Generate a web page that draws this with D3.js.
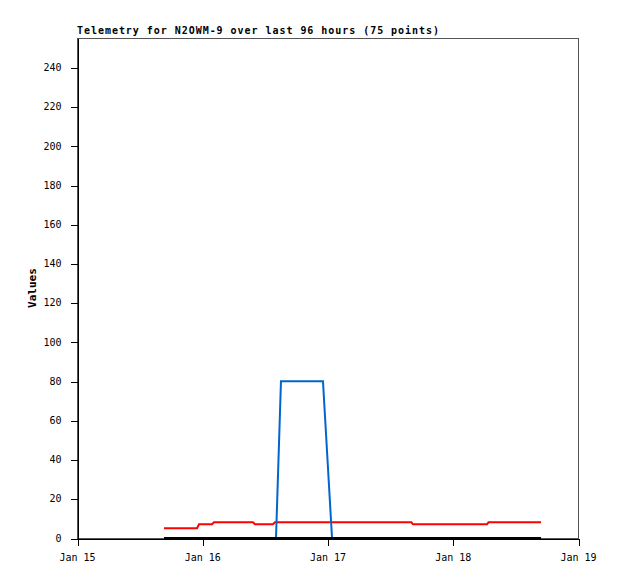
<!DOCTYPE html>
<html>
<head>
<meta charset="utf-8">
<script src="https://cdn.jsdelivr.net/npm/d3@7"></script>
<style>
html, body { margin: 0; padding: 0; background: #ffffff; }
svg { display: block; }
</style>
</head>
<body>
<svg id="chart" width="618" height="579"></svg>
<script>
// ---- data ----
const title = "Telemetry for N2OWM-9 over last 96 hours (75 points)";
const yLabel = "Values";
const xDomain = ["2024-01-15T00:00", "2024-01-19T00:00"];
const yDomain = [0, 255];
const yTicks = [0, 20, 40, 60, 80, 100, 120, 140, 160, 180, 200, 220, 240];

const redTimes = ["2024-01-15T16:40","2024-01-15T23:00","2024-01-15T23:23","2024-01-16T01:52","2024-01-16T02:15",
  "2024-01-16T09:43","2024-01-16T10:06","2024-01-16T13:33","2024-01-16T13:56","2024-01-17T16:05",
  "2024-01-17T16:23","2024-01-18T06:34","2024-01-18T06:51","2024-01-18T16:55"];
const redValues = [5, 5, 7, 7, 8, 8, 7, 7, 8, 8, 7, 7, 8, 8];

const blueTimes = ["2024-01-15T16:40","2024-01-16T14:08","2024-01-16T15:05","2024-01-16T23:08","2024-01-17T00:52","2024-01-18T16:55"];
const blueValues = [0, 0, 80, 80, 0, 0];

const blackTimes = ["2024-01-15T16:40","2024-01-18T16:55"];
const blackValues = [0, 0];

// ---- drawing ----
const parse = d3.utcParse("%Y-%m-%dT%H:%M");
const svg = d3.select("#chart");
const L = 77, R = 578, T = 38, B = 538;

const x = d3.scaleUtc().domain(xDomain.map(parse)).range([L, R]);
const y = d3.scaleLinear().domain(yDomain).range([B, T]);

const mono = "'DejaVu Sans Mono', 'Liberation Mono', monospace";

// frame (top/right grey)
svg.append("rect")
  .attr("x", L + 0.5).attr("y", T + 0.5)
  .attr("width", R - L).attr("height", B - T)
  .attr("fill", "none").attr("stroke", "#555555").attr("stroke-width", 1)
  .attr("shape-rendering", "crispEdges");

// title
svg.append("text")
  .attr("x", L).attr("y", 34)
  .attr("font-family", mono).attr("font-size", 10).attr("font-weight", "bold")
  .attr("letter-spacing", "0.96px")
  .attr("fill", "#000")
  .text(title);

// y axis label
svg.append("text")
  .attr("transform", `translate(36,${(T + B) / 2}) rotate(-90)`)
  .attr("text-anchor", "middle")
  .attr("font-family", mono).attr("font-size", 11).attr("font-weight", "bold")
  .attr("fill", "#000")
  .text(yLabel);

// axes
const yAxis = d3.axisLeft(y).tickValues(yTicks).tickSize(7).tickPadding(9).tickSizeOuter(0);
const gy = svg.append("g").attr("transform", `translate(${L + 0.5},0)`).call(yAxis);
const xAxis = d3.axisBottom(x).ticks(d3.utcDay.every(1)).tickFormat(d3.utcFormat("%b %d")).tickSize(7).tickPadding(8).tickSizeOuter(0);
const gx = svg.append("g").attr("transform", `translate(0,${B + 0.5})`).call(xAxis);

[gx, gy].forEach(g => {
  g.selectAll("path.domain").attr("stroke", "#000").attr("stroke-width", 1).attr("shape-rendering", "crispEdges");
  g.selectAll(".tick line").attr("stroke", "#000").attr("stroke-width", 1).attr("shape-rendering", "crispEdges");
  g.selectAll("text").attr("font-family", mono).attr("font-size", 10).attr("fill", "#000");
});
gx.selectAll(".tick line").attr("transform", "translate(0.5,0)");
gy.selectAll(".tick line").attr("transform", "translate(0,0.5)");

// series
const line = d3.line().x(d => x(d[0])).y(d => y(d[1]));
function series(times, values, color) {
  const pts = times.map((t, i) => [parse(t), values[i]]);
  svg.append("path").datum(pts)
    .attr("d", line)
    .attr("fill", "none")
    .attr("stroke", color)
    .attr("stroke-width", 2)
    .attr("stroke-linejoin", "miter");
}
series(redTimes, redValues, "#ff0000");
series(blueTimes, blueValues, "#0066cc");
series(blackTimes, blackValues, "#000000");
</script>
</body>
</html>
